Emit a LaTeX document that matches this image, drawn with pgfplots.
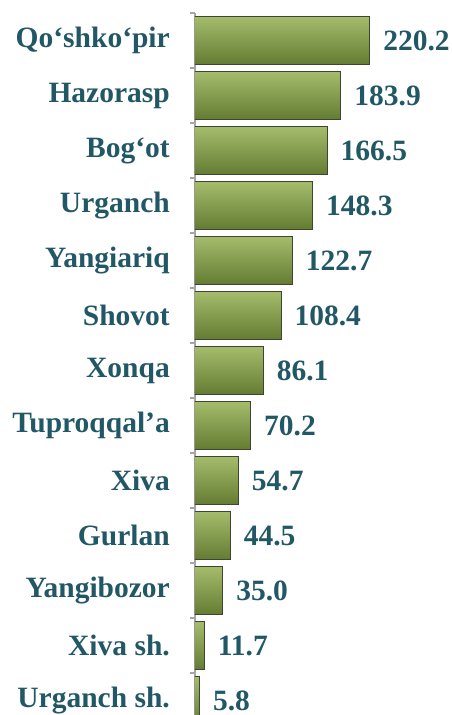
\documentclass[border=0pt]{standalone}
\usepackage{pgfplots}
\pgfplotsset{compat=1.18}
\usepackage{fontspec}
\setmainfont{Liberation Serif}

\definecolor{labteal}{RGB}{34,88,102}
\definecolor{barmid}{RGB}{126,154,68}
\definecolor{bartop}{RGB}{165,188,108}
\definecolor{barbot}{RGB}{100,124,50}
\definecolor{baredge}{RGB}{62,70,48}

\pgfplotsset{
  bevelbar/.style={draw=baredge, line width=1pt,
    top color=bartop, middle color=barmid, bottom color=barbot},
}

\begin{document}
\begin{tikzpicture}[x=1pt,y=1pt]
\path[use as bounding box] (0,0) rectangle (452,-715);
\clip (0,0) rectangle (452,-715);
\begin{axis}[
    at={(195pt,-13pt)}, anchor=north west,
    scale only axis, width=254pt, height=715pt,
    xbar, bar width=48pt, bar shift=0pt,
    xmin=0, xmax=320,
    ymin=-0.5, ymax=12.5, y dir=reverse,
    hide x axis,
    axis y line*=left,
    y axis line style={draw=gray!70, line width=1.2pt},
    ytick={-0.5,0.5,...,12.5},
    yticklabels={},
    tick align=outside,
    major tick length=5pt,
    tick style={draw=gray!70, line width=1.2pt},
    extra y ticks={0,...,12},
    extra y tick labels={Qo‘shko‘pir, Hazorasp, Bog‘ot, Urganch, Yangiariq, Shovot, Xonqa, Tuproqqal'a, Xiva, Gurlan, Yangibozor, Xiva sh., Urganch sh.},
    extra y tick style={major tick length=0pt},
    y tick label style={font=\fontsize{29.5}{33}\selectfont\bfseries, text=labteal, anchor=east, inner sep=0pt, xshift=-25pt},
    nodes near coords={\pgfmathprintnumber[fixed,fixed zerofill,precision=1,assume math mode=true]{\pgfplotspointmeta}},
    point meta=x,
    every node near coord/.append style={font=\fontsize{29.5}{33}\selectfont\bfseries, text=labteal, anchor=west, inner sep=0pt, xshift=13pt},
  ]
  \addplot[bevelbar] coordinates {(220.2,0)};
  \addplot[bevelbar] coordinates {(183.9,1)};
  \addplot[bevelbar] coordinates {(166.5,2)};
  \addplot[bevelbar] coordinates {(148.3,3)};
  \addplot[bevelbar] coordinates {(122.7,4)};
  \addplot[bevelbar] coordinates {(108.4,5)};
  \addplot[bevelbar] coordinates {(86.1,6)};
  \addplot[bevelbar] coordinates {(70.2,7)};
  \addplot[bevelbar] coordinates {(54.7,8)};
  \addplot[bevelbar] coordinates {(44.5,9)};
  \addplot[bevelbar] coordinates {(35.0,10)};
  \addplot[bevelbar] coordinates {(11.7,11)};
  \addplot[bevelbar] coordinates {(5.8,12)};
\end{axis}
\end{tikzpicture}
\end{document}
